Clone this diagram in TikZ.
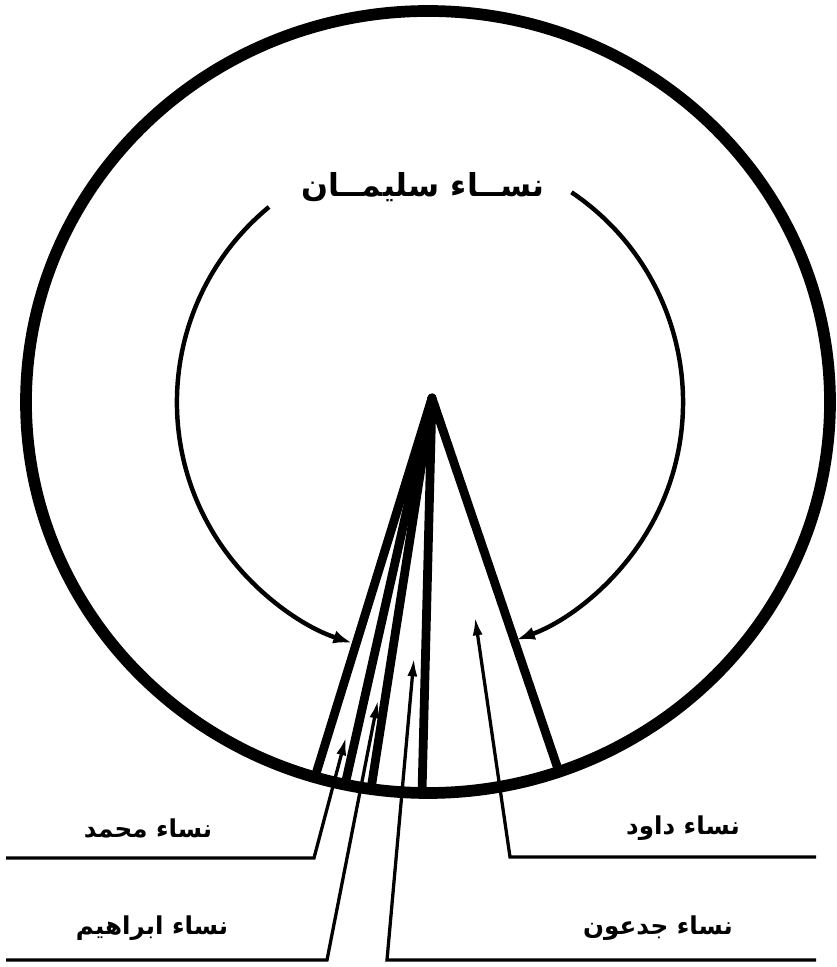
\documentclass[tikz,border=0pt]{standalone}
\usepackage{fontspec}
\newfontfamily\arabicfont[Script=Arabic]{DejaVu Sans}
\TeXXeTstate=1
\usetikzlibrary{arrows.meta}

\begin{document}
\begin{tikzpicture}[
  x=0.03cm, y=0.03cm,
  rim/.style={line width=10pt},
  ray/.style={line width=7.5pt, line cap=round},
  orbit/.style={line width=3.8pt, -{Latex[length=5.5mm,width=4mm]}},
  pointer/.style={line width=2.8pt, -{Latex[length=5.5mm,width=3mm]}},
  tagtext/.style={font=\arabicfont\bfseries\fontsize{21}{25}\selectfont, inner sep=0pt}
]
\useasboundingbox (0,0) rectangle (837,967);

% ── outer rim and the cone of rays ──────────────────────────────────
\draw[rim] (428,565) ellipse [x radius=402, y radius=391];
\coordinate (apex) at (432,569);
\foreach \e/\x/\y in {l1/315/190, l2/345/182, l3/371/178, l4/422/174, r1/559/195}
  \coordinate (\e) at (\x,\y);
\foreach \e in {l1,l2,l3,l4,r1}
  \draw[ray] (apex) -- (\e);

% ── inner arc: the women of Solomon ─────────────────────────────────
\node[tagtext, font=\arabicfont\bfseries\fontsize{27}{32}\selectfont]
  (sul) at (423,780) {\beginR نســاء سليمــان\endR};
\coordinate (arcL) at (269,760);
\coordinate (arcR) at (571.5,774.7);
\draw[orbit] (arcL) arc[start angle=129.5, end angle=252, radius=253];
\draw[orbit] (arcR) arc[start angle=56, end angle=-70, radius=253];

% ── pointers to the labels ──────────────────────────────────────────
\coordinate (mhdTip) at (346,230);
\coordinate (mhdBend) at (314,109);
\coordinate (mhdEnd) at (6,109);
\draw[pointer] (mhdEnd) -- (mhdBend) -- (mhdTip);
\node[tagtext] (mhd) at (148,139) {\beginR نساء محمد\endR};

\coordinate (ibrTip) at (378,267);
\coordinate (ibrBend) at (327,7);
\coordinate (ibrEnd) at (6,7);
\draw[pointer] (ibrEnd) -- (ibrBend) -- (ibrTip);
\node[tagtext] (ibr) at (152,39) {\beginR نساء ابراهيم\endR};

\coordinate (jdnTip) at (414,309);
\coordinate (jdnBend) at (387,7);
\coordinate (jdnEnd) at (816,7);
\draw[pointer] (jdnEnd) -- (jdnBend) -- (jdnTip);
\node[tagtext] (jdn) at (658,39) {\beginR نساء جدعون\endR};

\coordinate (dwdTip) at (475,350);
\coordinate (dwdBend) at (510,110);
\coordinate (dwdEnd) at (816,110);
\draw[pointer] (dwdEnd) -- (dwdBend) -- (dwdTip);
\node[tagtext] (dwd) at (683,139) {\beginR نساء داود\endR};

\end{tikzpicture}
\end{document}
